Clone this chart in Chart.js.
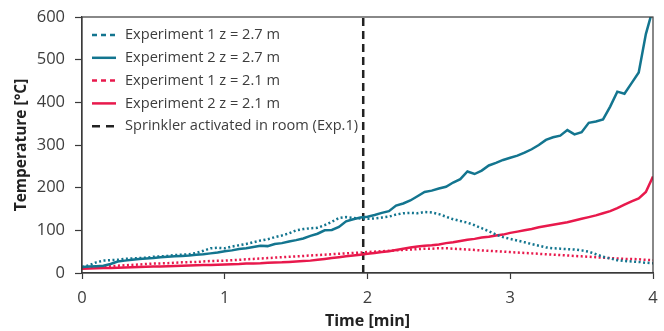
<!DOCTYPE html>
<html>
<head>
<meta charset="utf-8">
<script src="https://cdn.jsdelivr.net/npm/chart.js@4"></script>
<style>
  html, body { margin: 0; padding: 0; background: #fff; }
  #wrap { width: 664px; height: 331px; }
</style>
</head>
<body>
<div id="wrap"><canvas id="tempChart" width="664" height="331"></canvas></div>
<script>
// time axis [min]
const times = [
  0.00, 0.05, 0.10, 0.15, 0.20, 0.25, 0.30, 0.35, 0.40, 0.45,
  0.50, 0.55, 0.60, 0.65, 0.70, 0.75, 0.80, 0.85, 0.90, 0.95,
  1.00, 1.05, 1.10, 1.15, 1.20, 1.25, 1.30, 1.35, 1.40, 1.45,
  1.50, 1.55, 1.60, 1.65, 1.70, 1.75, 1.80, 1.85, 1.90, 1.95,
  2.00, 2.05, 2.10, 2.15, 2.20, 2.25, 2.30, 2.35, 2.40, 2.45,
  2.50, 2.55, 2.60, 2.65, 2.70, 2.75, 2.80, 2.85, 2.90, 2.95,
  3.00, 3.05, 3.10, 3.15, 3.20, 3.25, 3.30, 3.35, 3.40, 3.45,
  3.50, 3.55, 3.60, 3.65, 3.70, 3.75, 3.80, 3.85, 3.90, 3.95,
  4.00
];

// Experiment 1, z = 2.7 m
const exp1High = [
  14, 18, 25, 29, 30, 31, 33, 34, 35, 36,
  38, 39, 40, 42, 43, 44, 47, 52, 58, 59,
  58, 62, 65, 68, 72, 76, 79, 84, 88, 93,
  100, 103, 105, 106, 112, 120, 129, 131, 129, 128,
  127, 128, 130, 132, 137, 140, 141, 140, 143, 142,
  138, 132, 126, 122, 118, 112, 105, 98, 90, 84,
  80, 76, 72, 68, 64, 60, 58, 57, 56, 55,
  53, 50, 44, 38, 34, 30, 28, 27, 26, 24,
  23
];

// Experiment 2, z = 2.7 m
const exp2High = [
  14, 15, 16, 17, 21, 27, 29, 31, 33, 34,
  35, 37, 38, 39, 40, 41, 43, 44, 46, 48,
  51, 53, 56, 58, 61, 64, 63, 68, 70, 74,
  77, 81, 87, 92, 100, 101, 108, 121, 126, 130,
  132, 136, 141, 145, 158, 163, 170, 180, 190, 193,
  198, 202, 212, 220, 238, 232, 240, 252, 258, 265,
  270, 275, 282, 290, 300, 312, 318, 322, 335, 325,
  330, 352, 355, 360, 390, 425, 420, 445, 470, 560,
  620
];

// Experiment 1, z = 2.1 m
const exp1Low = [
  12, 13, 14, 15, 16, 17, 18, 19, 20, 21,
  22, 22.5, 23, 24, 25, 25.5, 26, 27, 28, 28.5,
  29, 30, 31, 32, 33, 34, 35, 36, 37, 38,
  39, 40, 41, 42, 43, 44, 45, 46, 47, 48,
  49, 50, 51, 52, 53, 54, 55, 56, 57, 57,
  58, 58, 57, 56, 55, 54, 53, 52, 51, 50,
  49, 48, 47, 46, 45, 44, 43, 42, 41, 40,
  39, 38, 37, 36, 35, 34, 33, 33, 32, 31,
  30
];

// Experiment 2, z = 2.1 m
const exp2Low = [
  10, 10.5, 11, 11.5, 12, 12.5, 13, 13.5, 14, 14.5,
  15, 15.5, 16, 16.5, 17, 17.5, 18, 18.5, 19, 19.5,
  20, 20.5, 21, 22, 22.5, 23, 24, 24.5, 25, 26,
  27, 28, 29, 31, 33, 35, 37, 39, 41, 43,
  45, 47, 49, 51, 54, 57, 60, 62, 64, 65,
  67, 70, 72, 75, 78, 80, 83, 85, 88, 90,
  94, 97, 100, 103, 107, 110, 113, 116, 119, 123,
  127, 131, 135, 140, 145, 152, 160, 168, 175, 190,
  226
];

// sprinkler activation (Exp.1)
const sprinklerTime = 1.97;
const sprinklerSpan = [0, 600];

const seriesLabels = [
  "Experiment 1 z = 2.7 m",
  "Experiment 2 z = 2.7 m",
  "Experiment 1 z = 2.1 m",
  "Experiment 2 z = 2.1 m",
  "Sprinkler activated in room (Exp.1)"
];

const blue = "#13758f";
const red = "#e8194c";
const axisColor = "#3a3a3a";
const textColor = "#3d3d3d";

function pairs(values) {
  return values.map((v, i) => ({ x: times[i], y: v }));
}

const legendStyles = [
  { color: blue, dash: [5, 4] },
  { color: blue, dash: [] },
  { color: red, dash: [5, 4] },
  { color: red, dash: [] },
  { color: "#222", dash: [8, 6] }
];

const insideLegend = {
  id: "insideLegend",
  afterDraw(chart) {
    const ctx = chart.ctx;
    ctx.save();
    ctx.font = "14.6px 'Open Sans'";
    ctx.textBaseline = "middle";
    seriesLabels.forEach((label, i) => {
      const y = 35 + i * 22.8;
      const st = legendStyles[i];
      ctx.strokeStyle = st.color;
      ctx.lineWidth = 2.5;
      ctx.setLineDash(st.dash);
      ctx.beginPath();
      ctx.moveTo(92, y);
      ctx.lineTo(116, y);
      ctx.stroke();
      ctx.setLineDash([]);
      ctx.fillStyle = textColor;
      ctx.fillText(label, 125, y);
    });
    ctx.restore();
  }
};

const frameBox = {
  id: "frameBox",
  afterDatasetsDraw(chart) {
    const a = chart.chartArea;
    const ctx = chart.ctx;
    ctx.save();
    ctx.strokeStyle = axisColor;
    ctx.lineWidth = 1.2;
    ctx.strokeRect(a.left, a.top, a.right - a.left, a.bottom - a.top);
    ctx.restore();
  }
};

new Chart(document.getElementById("tempChart"), {
  type: "line",
  data: {
    datasets: [
      {
        label: seriesLabels[0],
        data: pairs(exp1High),
        borderColor: blue,
        borderWidth: 2.5,
        borderDash: [2, 2.5],
        pointRadius: 0
      },
      {
        label: seriesLabels[1],
        data: pairs(exp2High),
        borderColor: blue,
        borderWidth: 2.5,
        pointRadius: 0
      },
      {
        label: seriesLabels[2],
        data: pairs(exp1Low),
        borderColor: red,
        borderWidth: 2.5,
        borderDash: [2, 2.5],
        pointRadius: 0
      },
      {
        label: seriesLabels[3],
        data: pairs(exp2Low),
        borderColor: red,
        borderWidth: 2.5,
        pointRadius: 0
      },
      {
        label: seriesLabels[4],
        data: sprinklerSpan.map((v) => ({ x: sprinklerTime, y: v })),
        borderColor: "#222",
        borderWidth: 2.5,
        borderDash: [8, 5],
        pointRadius: 0
      }
    ]
  },
  options: {
    responsive: false,
    animation: false,
    layout: { padding: { top: 17, right: 11, left: 0, bottom: 0 } },
    plugins: {
      legend: { display: false },
      tooltip: { enabled: false }
    },
    scales: {
      x: {
        type: "linear",
        min: 0,
        max: 4,
        ticks: {
          stepSize: 1,
          color: textColor,
          font: { family: "'Open Sans'", size: 16.5 },
          padding: 9
        },
        grid: { drawOnChartArea: false, tickLength: 6, color: axisColor, tickWidth: 1.2 },
        border: { color: axisColor, width: 1.2 },
        title: {
          display: true,
          text: "Time [min]",
          color: "#222",
          font: { family: "'Open Sans'", size: 16, weight: "bold" },
          padding: { top: 2, bottom: 0 }
        },
        afterFit(scale) {
          scale.height = 58;
          scale.paddingLeft = 0;
          scale.paddingRight = 0;
        }
      },
      y: {
        min: 0,
        max: 600,
        ticks: {
          stepSize: 100,
          color: textColor,
          font: { family: "'Open Sans'", size: 16.5 },
          padding: 10
        },
        grid: { drawOnChartArea: false, tickLength: 7, color: axisColor, tickWidth: 1.2 },
        border: { color: axisColor, width: 1.2 },
        title: {
          display: true,
          text: "Temperature [°C]",
          color: "#222",
          font: { family: "'Open Sans'", size: 15.5, weight: "bold" },
          padding: { top: 12, bottom: 0 }
        },
        afterFit(scale) {
          scale.width = 82;
          scale.paddingTop = 0;
          scale.paddingBottom = 0;
        }
      }
    }
  },
  plugins: [frameBox, insideLegend]
});
</script>
</body>
</html>
